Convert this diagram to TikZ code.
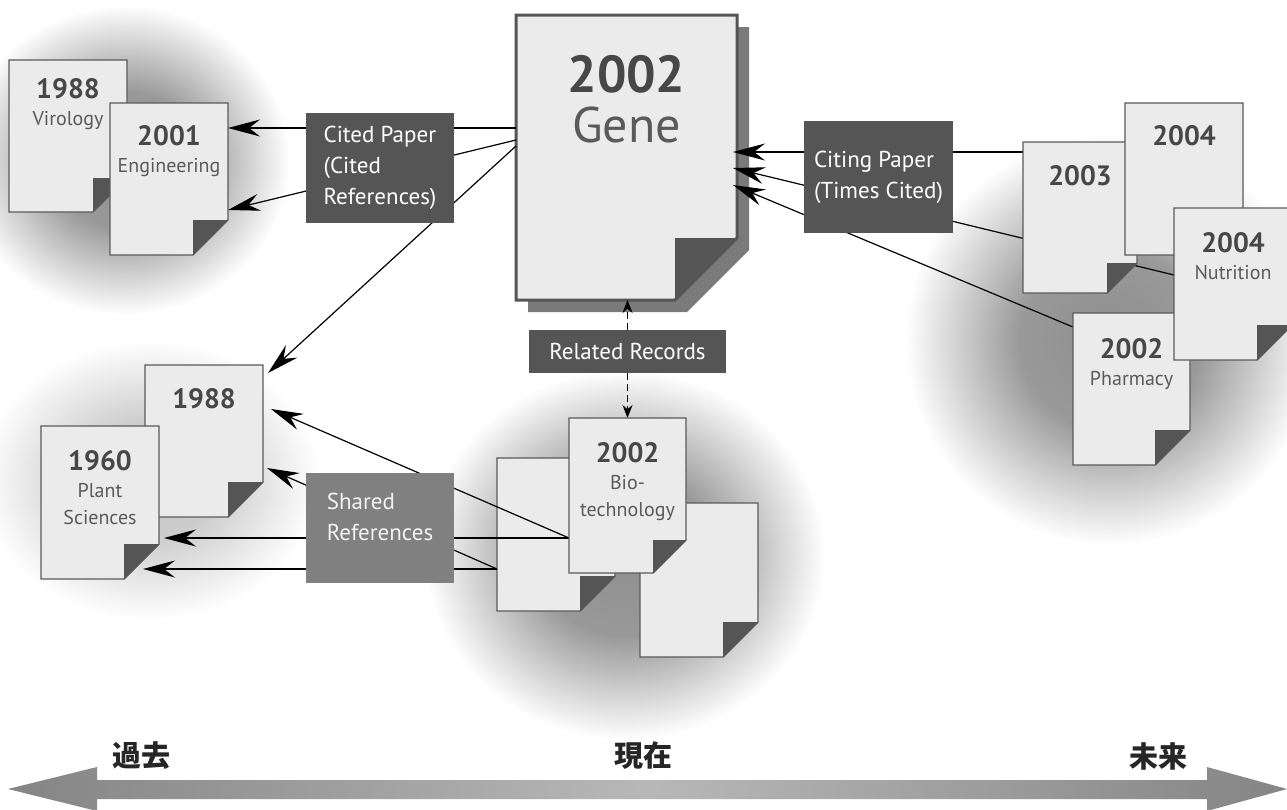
\documentclass[tikz,border=0pt]{standalone}
\usepackage{fontspec}
\setmainfont{PT Sans}
\newfontfamily\jpfont{Noto Sans CJK JP}
\usetikzlibrary{positioning}
\usetikzlibrary{arrows.meta}
\definecolor{paperfill}{HTML}{EBEBEB}
\definecolor{paperline}{HTML}{5A5A5A}
\definecolor{foldgray}{HTML}{555555}
\definecolor{boxdark}{HTML}{555555}
\definecolor{boxmid}{HTML}{808080}
\definecolor{yeargray}{HTML}{474747}
\definecolor{subgray}{HTML}{5A5A5A}
\definecolor{shadowgray}{HTML}{7A7A7A}
\pgfdeclareradialshading{halo}{\pgfpoint{0bp}{0bp}}{color(0bp)=(black!44); color(11bp)=(black!40); color(25bp)=(white); color(50bp)=(white)}
\pgfdeclareradialshading{halolight}{\pgfpoint{0bp}{0bp}}{color(0bp)=(black!24); color(10bp)=(black!20); color(25bp)=(white); color(50bp)=(white)}
\tikzset{
  paper/.style={minimum width=118pt, minimum height=152pt, inner sep=0pt, outer sep=0pt, anchor=north west},
  paperbody/.style={fill=paperfill, draw=paperline, line width=1.4pt},
  papertxt/.style={inner sep=0pt, align=center, text=subgray, font=\fontsize{20}{27}\selectfont},
  tagbox/.style={fill=boxdark, text=white, align=left, inner sep=0pt, font=\fontsize{23}{31}\selectfont},
  citearrow/.style={draw=black, line width=1.2pt, -{Stealth[length=32pt, width=17pt, inset=11pt]}},
  relarrow/.style={draw=black, line width=1.1pt, dash pattern=on 7pt off 4pt, -{Stealth[length=13pt, width=10pt]}},
  jptxt/.style={inner sep=0pt, text=black!85, font=\jpfont\bfseries\fontsize{29}{30}\selectfont}
}
\newcommand\paperyear[1]{{\fontsize{28}{27}\selectfont\bfseries\color{yeargray}#1}}
\newcommand\papershape[3][]{%
  \filldraw[paperbody,#1] (#2.north west) -- (#2.north east) -- ([yshift=#3]#2.south east)
    -- ([xshift=-#3]#2.south east) -- (#2.south west) -- cycle;
  \fill[foldgray] ([xshift=-#3,yshift=#3]#2.south east) -- ([yshift=#3]#2.south east)
    -- ([xshift=-#3]#2.south east) -- cycle;}

\begin{document}
\begin{tikzpicture}[x=1pt, y=-1pt]
	\fill[white] (0,0) rectangle (1287,809);
	\useasboundingbox (0,0) rectangle (1287,809);
	\shade[shading=halo] (125,160) ellipse [x radius=165pt, y radius=155pt];
	\shade[shading=halolight] (150,480) ellipse [x radius=170pt, y radius=140pt];
	\shade[shading=halo] (625,555) ellipse [x radius=200pt, y radius=185pt];
	\shade[shading=halo] (1110,340) ellipse [x radius=205pt, y radius=205pt];

	\shade[left color=black!48, right color=black!48, middle color=black!28] (8,789) -- (97,767) -- (97,780) -- (1207,780) -- (1207,767) -- (1287,789) -- (1207,811) -- (1207,799) -- (97,799) -- (97,811) -- cycle;
	\node[jptxt] (past) at (141,756) {過去};
	\node[jptxt] (now) at (643,756) {現在};
	\node[jptxt] (future) at (1158,756) {未来};

	\node[paper, minimum width=221pt, minimum height=285pt] (gene) at (516,15) {};
	\node[paper] (vir) at (9,60) {};
	\node[paper] (eng) at (110,103) {};
	\node[paper] (old88) at (145,365) {};
	\node[paper, minimum height=153pt] (plant) at (41,426) {};
	\node[paper, minimum height=153pt] (blank1) at (497,458) {};
	\node[paper, minimum height=154pt] (blank2) at (640,503) {};
	\node[paper, minimum width=117pt, minimum height=155pt] (bio) at (569,418) {};
	\node[paper, minimum width=114pt, minimum height=151pt] (y2003) at (1023,142) {};
	\node[paper] (y2004) at (1125,103) {};
	\node[paper, minimum width=117pt] (pharm) at (1073,313) {};
	\node[paper] (nutr) at (1174,208) {};

	\fill[shadowgray] ([shift={(12,12)}]gene.north west) -- ([shift={(12,12)}]gene.north east) -- ([shift={(12,-50)}]gene.south east) -- ([shift={(-50,12)}]gene.south east) -- ([shift={(12,12)}]gene.south west) -- cycle;
	\papershape[line width=3pt, draw=foldgray]{gene}{62pt}
	\node[below=40pt of gene.north, align=center, inner sep=0pt, font=\fontsize{50}{50}\selectfont] (genet) {{\fontsize{52}{50}\selectfont\bfseries\color{yeargray}2002}\\{\color{subgray}Gene}};

	\papershape{blank1}{35pt}
	\papershape{blank2}{35pt}

	\draw[citearrow] ([yshift=-113pt]gene.north west) -- ([yshift=-25pt]eng.north east);
	\draw[citearrow] ([yshift=-125pt]gene.north west) -- ([yshift=-107pt]eng.north east);
	\draw[citearrow] ([yshift=-131pt]gene.north west) -- ([shift={(5,8)}]old88.north east);
	\draw[citearrow] ([yshift=-10pt]y2003.north west) -- ([shift={(-4,137)}]gene.north east);
	\draw[citearrow] ([yshift=-67pt]nutr.north west) -- ([shift={(-4,153)}]gene.north east);
	\draw[citearrow] ([yshift=-14pt]pharm.north west) -- ([shift={(-4,170)}]gene.north east);
	\draw[citearrow] ([yshift=-120pt]bio.north west) -- ([shift={(8,44)}]old88.north east);
	\draw[citearrow] ([yshift=-120pt]bio.north west) -- ([shift={(5,112)}]plant.north east);
	\draw[citearrow] ([yshift=-111pt]blank1.north west) -- ([shift={(4,103)}]old88.north east);
	\draw[citearrow] ([yshift=-111pt]blank1.north west) -- ([shift={(-16,143)}]plant.north east);

	\node[tagbox, minimum width=148pt, minimum height=110pt] (cited) at (380,168) {Cited Paper\\(Cited\\References)};
	\node[tagbox, minimum width=149pt, minimum height=112pt] (citing) at (878.5,177) {Citing Paper\\(Times Cited)};
	\node[tagbox, minimum width=197pt, minimum height=43pt] (related) at (627.5,351.5) {Related Records};
	\node[tagbox, fill=boxmid, text=black!5, minimum width=148pt, minimum height=110pt] (shared) at (380,528) {Shared\\References\rule[-22pt]{0pt}{0pt}};
	\draw[relarrow] (related.north) -- (related.north |- gene.south);
	\draw[relarrow] (related.south) -- (related.south |- bio.north);

	\papershape{vir}{34pt}
	\node[papertxt, below=18pt of vir.north] (virt) {\paperyear{1988}\\Virology};
	\papershape{eng}{35pt}
	\node[papertxt, below=22pt of eng.north] (engt) {\paperyear{2001}\\Engineering};
	\papershape{old88}{35pt}
	\node[papertxt, below=23pt of old88.north] (old88t) {\paperyear{1988}};
	\papershape{plant}{35pt}
	\node[papertxt, below=24pt of plant.north] (plantt) {\paperyear{1960}\\Plant\\Sciences};
	\papershape{bio}{33pt}
	\node[papertxt, below=24pt of bio.north] (biot) {\paperyear{2002}\\Bio-\\technology};
	\papershape{y2003}{30pt}
	\node[papertxt, below=23pt of y2003.north] (y2003t) {\paperyear{2003}};
	\papershape{y2004}{35pt}
	\node[papertxt, below=22pt of y2004.north] (y2004t) {\paperyear{2004}};
	\papershape{pharm}{35pt}
	\node[papertxt, below=25pt of pharm.north] (pharmt) {\paperyear{2002}\\Pharmacy};
	\papershape{nutr}{35pt}
	\node[papertxt, below=24pt of nutr.north] (nutrt) {\paperyear{2004}\\Nutrition};
\end{tikzpicture}
\end{document}
